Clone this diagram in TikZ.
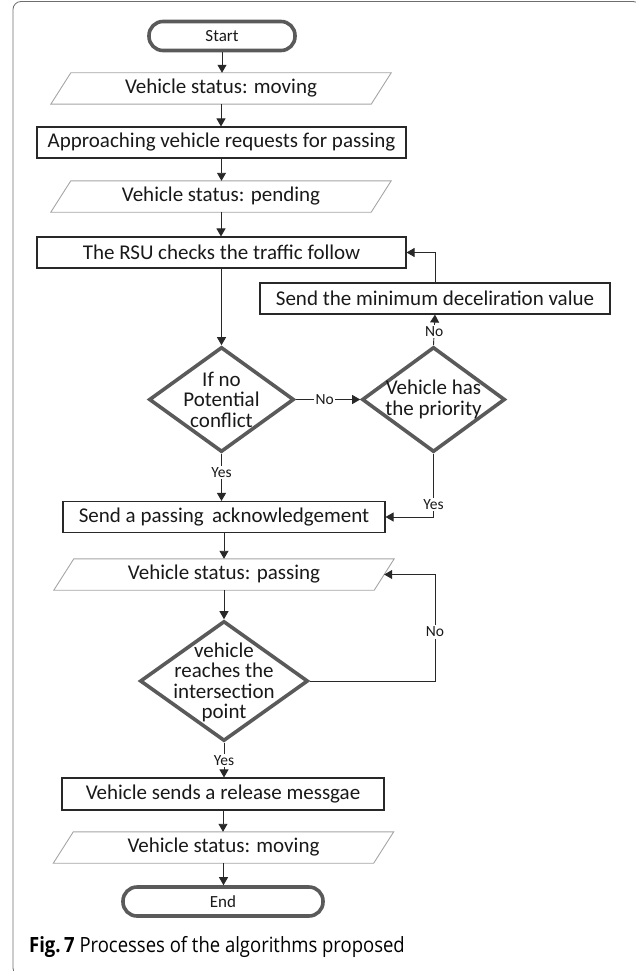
\documentclass[tikz,border=0pt]{standalone}
\usepackage{fontspec}
\setmainfont{Carlito}
\newfontfamily\capfont[FakeStretch=0.88]{Open Sans}
\usetikzlibrary{arrows.meta,shapes.geometric}
\definecolor{thickgray}{RGB}{90,90,90}
\definecolor{paragray}{RGB}{165,165,165}
\definecolor{linegray}{RGB}{40,40,40}
\definecolor{framegray}{RGB}{110,110,110}
\definecolor{txt}{RGB}{25,25,25}
\begin{document}
\begin{tikzpicture}[x=1pt,y=1pt,
  every node/.style={text=txt},
  mainfont/.style={font=\fontsize{21}{21}\selectfont},
  term/.style={draw=thickgray, line width=3.6pt, rounded corners=14pt, minimum height=29pt, inner sep=0pt, font=\fontsize{17}{17}\selectfont},
  box/.style={draw=linegray, line width=1.1pt, minimum height=31pt, inner sep=0pt, mainfont},
  para/.style={minimum width=340pt, minimum height=31pt, inner sep=0pt, mainfont},
  paraline/.style={draw=paragray, line width=0.9pt},
  dec/.style={draw=thickgray, line width=3.6pt, diamond, inner sep=0pt},
  dectext/.style={align=center, inner sep=0pt, font=\fontsize{21}{20.4}\selectfont},
  arr/.style={draw=linegray, line width=0.9pt, -{Triangle[length=8pt,width=9pt]}},
  lbl/.style={fill=white, inner sep=1.5pt, font=\fontsize{15.5}{15.5}\selectfont},
]
\useasboundingbox (0,0) rectangle (635,-971);
\draw[framegray, line width=0.8pt, rounded corners=8pt] (13,-1.5) rectangle (641,-976);

% nodes
\node[term, minimum width=146pt] (start) at (222,-36) {Start};
\node[para] (s1) at (221,-88.5) {Vehicle status: moving};
\node[box, minimum width=369pt] (r1) at (221.5,-142.5) {Approaching vehicle requests for passing};
\node[para] (s2) at (221,-196.5) {Vehicle status: pending};
\node[box, minimum width=369pt] (r2) at (221.5,-252.5) {The RSU checks the traffic follow};
\node[box, minimum width=350pt] (r3) at (435,-298.5) {Send the minimum deceliration value};
\node[dec, minimum width=145pt, minimum height=105pt] (d1) at (221.5,-399.5) {};
\node[dectext] (d1t) at (d1) {If no\\Potential\\conflict};
\node[dec, minimum width=143pt, minimum height=105pt] (d2) at (433.5,-399.5) {};
\node[dectext] (d2t) at (d2) {Vehicle has\\the priority};
\node[box, minimum width=322pt] (r4) at (224,-517) {Send a passing\, acknowledgement};
\node[para] (s3) at (224,-574.5) {Vehicle status: passing};
\node[dec, minimum width=168pt, minimum height=120pt] (d3) at (224,-681) {};
\node[dectext] (d3t) at (224,-682.5) {vehicle\\reaches the\\intersection\\point};
\node[box, minimum width=322pt, minimum height=32pt] (r5) at (223,-794) {Vehicle sends a release messgae};
\node[para] (s4) at (223.5,-847.5) {Vehicle status: moving};
\node[term, minimum width=200pt] (end) at (223,-901.5) {End};

% parallelogram outlines
\foreach \n in {s1,s2,s3,s4}{
  \draw[paraline] ([xshift=20pt]\n.north west) -- (\n.north east) -- ([xshift=-20pt]\n.south east) -- (\n.south west) -- cycle;
}

% connectors
\draw[arr] (start.south) -- (start.south |- s1.north);
\draw[arr] (s1.south) -- (s1.south |- r1.north);
\draw[arr] (r1.south) -- (r1.south |- s2.north);
\draw[arr] (s2.south) -- (s2.south |- r2.north);
\draw[arr] (r2.south) -- (r2.south |- d1.north);
\draw[arr] (d1.east) -- node[lbl, pos=0.45]{No} (d2.west);
\draw[arr] (d2.north) -- node[lbl, pos=0.45]{No} (r3.south);
\draw[arr] (r3.north) |- (r2.east);
\draw[arr] (d1.south) -- node[lbl, pos=0.4]{Yes} (d1.south |- r4.north);
\draw[arr] (d2.south) |- node[lbl, pos=0.4]{Yes} (r4.east);
\draw[arr] (r4.south) -- (r4.south |- s3.north);
\draw[arr] (s3.south) -- (s3.south |- d3.north);
\coordinate (c3) at (435,-681);
\draw[arr] (d3.east) -- (c3) |- node[lbl, pos=0.23]{No} ([xshift=-10pt]s3.east);
\draw[arr] (d3.south) -- node[lbl, pos=0.5]{Yes} (d3.south |- r5.north);
\draw[arr] (r5.south) -- (r5.south |- s4.north);
\draw[arr] (s4.south) -- (s4.south |- end.north);

% caption
\node[anchor=base west, inner sep=0pt, text=black, font=\capfont\fontsize{21}{21}\selectfont] (cap) at (29,-952) {\textbf{Fig.\,7} Processes of the algorithms proposed};
\end{tikzpicture}
\end{document}
